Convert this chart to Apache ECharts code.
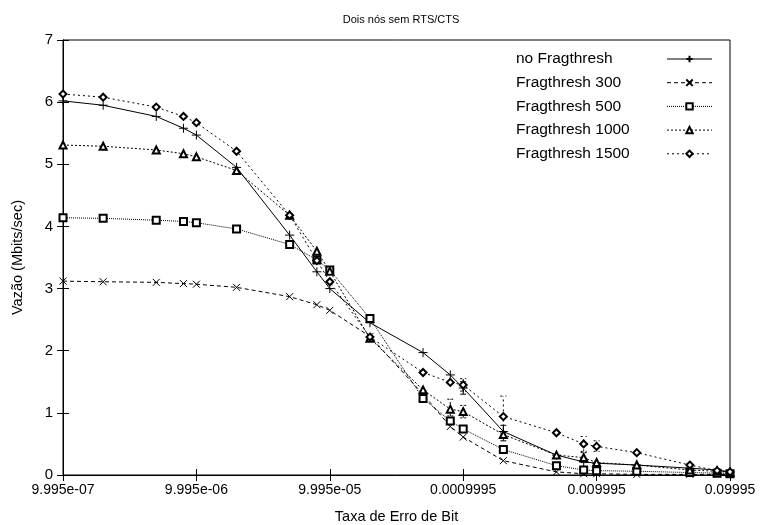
<!DOCTYPE html>
<html>
<head>
<meta charset="utf-8">
<script src="https://cdn.jsdelivr.net/npm/echarts@6/dist/echarts.min.js"></script>
<style>
  html, body { margin: 0; padding: 0; background: #fff; }
  #chart { width: 761px; height: 525px; }
</style>
</head>
<body>
<div id="chart"></div>
<script>
// taxa de erro de bit (eixo x, log)
var berValues = [9.995e-7, 1.999e-6, 4.9975e-6, 7.996e-6, 9.995e-6,
                 1.999e-5, 4.9975e-5, 7.996e-5, 9.995e-5,
                 1.999e-4, 4.9975e-4, 7.996e-4, 9.995e-4,
                 1.999e-3, 4.9975e-3, 7.996e-3, 9.995e-3,
                 1.999e-2, 4.9975e-2, 7.996e-2, 9.995e-2];
var xTickLabels = ['9.995e-07', '9.995e-06', '9.995e-05', '0.0009995', '0.009995', '0.09995'];
var yTicks = [0, 1, 2, 3, 4, 5, 6, 7];

var seriesNames = ['no Fragthresh', 'Fragthresh 300', 'Fragthresh 500', 'Fragthresh 1000', 'Fragthresh 1500'];
var noFrag = [6.02, 5.95, 5.77, 5.58, 5.47, 4.95, 3.86, 3.27, 3.00, 2.45, 1.97, 1.61, 1.40, 0.70, 0.32, 0.21, 0.19, 0.16, 0.11, 0.08, 0.05];
var frag300 = [3.12, 3.11, 3.10, 3.08, 3.07, 3.02, 2.87, 2.74, 2.65, 2.23, 1.30, 0.78, 0.61, 0.23, 0.05, 0.02, 0.02, 0.01, 0.01, 0.01, 0.01];
var frag500 = [4.14, 4.13, 4.10, 4.08, 4.06, 3.96, 3.71, 3.46, 3.30, 2.52, 1.23, 0.87, 0.74, 0.41, 0.15, 0.08, 0.07, 0.06, 0.04, 0.03, 0.02];
var frag1000 = [5.31, 5.29, 5.23, 5.17, 5.12, 4.90, 4.18, 3.60, 3.28, 2.20, 1.37, 1.06, 1.02, 0.65, 0.32, 0.28, 0.20, 0.16, 0.08, 0.06, 0.04];
var frag1500 = [6.13, 6.08, 5.92, 5.77, 5.67, 5.21, 4.18, 3.45, 3.11, 2.22, 1.65, 1.49, 1.45, 0.94, 0.68, 0.50, 0.46, 0.36, 0.16, 0.07, 0.05];

// barras de erro: [indice do x, minimo, maximo]
var errNoFrag = [[12, 1.30, 1.50], [13, 0.55, 0.80]];
var err1000 = [[11, 0.95, 1.22], [12, 0.92, 1.12], [15, 0.20, 0.36]];
var err1500 = [[12, 1.35, 1.55], [13, 0.62, 1.27], [15, 0.38, 0.62], [16, 0.38, 0.55]];

var font = 'Liberation Sans, Arial, Helvetica, sans-serif';
var chart = echarts.init(document.getElementById('chart'));

// posicao em decadas a partir do primeiro valor (escala log)
function xPos(i) {
    return Math.log10(berValues[i] / berValues[0]);
}
function toPairs(vals) {
    return vals.map(function (v, i) { return [xPos(i), v]; });
}

var plusPath = 'path://M0,5L10,5M5,0L5,10';
var crossPath = 'path://M0,0L10,10M10,0L0,10';

function makeSeries(name, vals, symbol, size, dash) {
    return {
        name: name,
        type: 'line',
        data: toPairs(vals),
        symbol: symbol,
        symbolSize: size,
        showAllSymbol: true,
        animation: false,
        lineStyle: { color: '#000', width: 1, type: dash },
        itemStyle: { color: '#000', borderColor: '#000', borderWidth: 1 },
        emphasis: { disabled: true }
    };
}

function makeErrors(errs, dash) {
    return {
        type: 'custom',
        silent: true,
        animation: false,
        data: errs.map(function (e) { return [xPos(e[0]), e[1], e[2]]; }),
        encode: { x: 0, y: [1, 2] },
        renderItem: function (params, api) {
            var lo = api.coord([api.value(0), api.value(1)]);
            var hi = api.coord([api.value(0), api.value(2)]);
            var st = { stroke: '#000', lineWidth: 1, lineDash: dash };
            return {
                type: 'group',
                children: [
                    { type: 'line', shape: { x1: lo[0], y1: lo[1], x2: hi[0], y2: hi[1] }, style: st },
                    { type: 'line', shape: { x1: lo[0] - 3, y1: lo[1], x2: lo[0] + 3, y2: lo[1] }, style: st },
                    { type: 'line', shape: { x1: hi[0] - 3, y1: hi[1], x2: hi[0] + 3, y2: hi[1] }, style: st }
                ]
            };
        }
    };
}

var tickStyle = { show: true, inside: true, length: 6, lineStyle: { color: '#000', width: 1 } };
var lineStyleAxis = { show: true, lineStyle: { color: '#000', width: 1 } };

option = {
    backgroundColor: '#fff',
    title: {
        text: 'Dois nós sem RTS/CTS',
        left: 396,
        textAlign: 'center',
        top: 9,
        textStyle: { fontFamily: font, fontSize: 11, fontWeight: 'normal', color: '#000' }
    },
    grid: {
        left: 63, right: 31, top: 40, bottom: 50,
        outerBoundsMode: 'none', containLabel: false,
        show: true, borderColor: '#000', borderWidth: 1, backgroundColor: 'transparent'
    },
    legend: {
        orient: 'vertical',
        left: 516,
        top: 51,
        padding: 0,
        align: 'right',
        itemWidth: 45,
        itemHeight: 8,
        itemGap: 7.7,
        selectedMode: false,
        lineStyle: { width: 1 },
        formatter: function (name) { return '{t|' + name + '}'; },
        textStyle: {
            fontFamily: font, fontSize: 15.5, color: '#000',
            rich: { t: { width: 146, align: 'left', fontFamily: font, fontSize: 15.5, lineHeight: 14, height: 14 } }
        },
        data: seriesNames
    },
    xAxis: [{
        type: 'value',
        min: 0,
        max: 5,
        interval: 1,
        position: 'bottom',
        name: 'Taxa de Erro de Bit',
        nameLocation: 'middle',
        nameGap: 34,
        nameTextStyle: { fontFamily: font, fontSize: 14.5, color: '#000' },
        axisLine: lineStyleAxis,
        axisTick: tickStyle,
        splitLine: { show: false },
        axisLabel: {
            color: '#000', fontFamily: font, fontSize: 14, margin: 8,
            formatter: function (v) { return xTickLabels[Math.round(v)]; }
        }
    }, {
        type: 'value', min: 0, max: 5, interval: 1, position: 'top', show: true,
        axisLine: lineStyleAxis, axisTick: tickStyle, splitLine: { show: false },
        axisLabel: { show: false }
    }],
    yAxis: [{
        type: 'value',
        min: yTicks[0],
        max: yTicks[yTicks.length - 1],
        interval: 1,
        position: 'left',
        name: 'Vazão (Mbits/sec)',
        nameLocation: 'middle',
        nameGap: 38,
        nameTextStyle: { fontFamily: font, fontSize: 14.5, color: '#000' },
        axisLine: lineStyleAxis,
        axisTick: tickStyle,
        splitLine: { show: false },
        axisLabel: { color: '#000', fontFamily: font, fontSize: 15, margin: 10 }
    }, {
        type: 'value', min: 0, max: 7, interval: 1, position: 'right', show: true,
        axisLine: lineStyleAxis, axisTick: tickStyle, splitLine: { show: false },
        axisLabel: { show: false }
    }],
    series: [
        makeSeries(seriesNames[0], noFrag, plusPath, 9, 'solid'),
        makeSeries(seriesNames[1], frag300, crossPath, 7, [4, 3]),
        makeSeries(seriesNames[2], frag500, 'emptyRect', 7, [1, 1]),
        makeSeries(seriesNames[3], frag1000, 'emptyTriangle', 7, [2, 2]),
        makeSeries(seriesNames[4], frag1500, 'emptyDiamond', 7, [2, 3]),
        makeErrors(errNoFrag, null),
        makeErrors(err1000, [2, 2]),
        makeErrors(err1500, [2, 3])
    ]
};
chart.setOption(option);
</script>
</body>
</html>
